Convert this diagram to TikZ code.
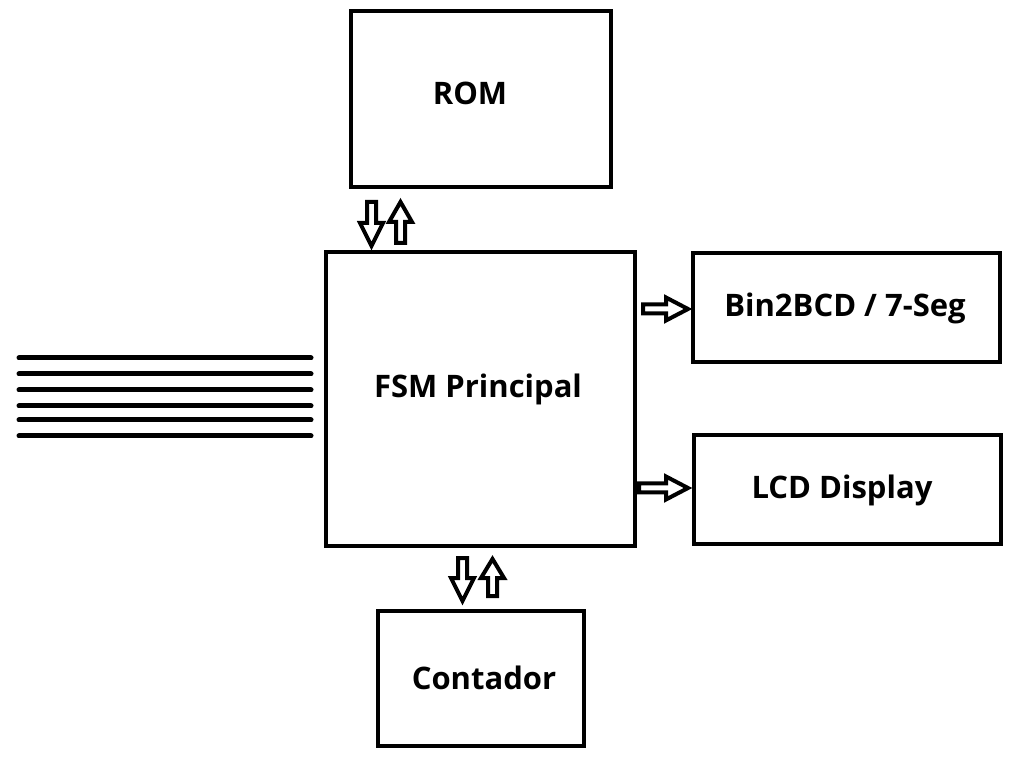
\documentclass[tikz,border=0pt]{standalone}
\usepackage{fontspec}
\setmainfont{Open Sans}
\begin{document}
\begin{tikzpicture}[x=1pt,y=1pt,
  box/.style={draw=black,line width=4pt,fill=white,inner sep=0pt},
  lbl/.style={font=\fontsize{31}{34}\selectfont\bfseries,inner sep=0pt,anchor=center},
  blk/.style={draw=black,line width=4pt,line join=miter,fill=white},
  wire/.style={line width=5pt,line cap=round}]
\useasboundingbox (0,0) rectangle (1018,756);
% boxes (stroke centre coordinates)
\node[box,minimum width=260pt,minimum height=176pt] (rom) at (481,657) {};
\node[box,minimum width=309pt,minimum height=294pt] (fsm) at (480.5,357) {};
\node[box,minimum width=307pt,minimum height=109pt] (bcd) at (846.5,448.5) {};
\node[box,minimum width=307pt,minimum height=109pt] (lcd) at (847.5,266.5) {};
\node[box,minimum width=206pt,minimum height=135pt] (cnt) at (481,77.5) {};
% labels
\node[lbl] (tRom) at (470,663) {ROM};
\node[lbl] (tFsm) at (478,367) {FSM Principal};
\node[lbl] (tBcd) at (845,448) {Bin2BCD / 7-Seg};
\node[lbl] (tLcd) at (842,266) {LCD Display};
\node[lbl] (tCnt) at (484,78) {Contador};
% input wires
\foreach \yy [count=\i] in {398,382,366,350,336,320}{
  \coordinate (w\i a) at (19,\yy);
  \coordinate (w\i b) at (fsm.west |- 0,\yy);
  \draw[wire] (w\i a) -- ([xshift=-13pt]w\i b);
}
% block arrows
\newcommand{\blkarrow}[5]{%
  \draw[blk,shift={(#1,#2)},rotate=#3]
    (0,-4.5) -- (#4-#5,-4.5) -- (#4-#5,-11.5) -- (#4,0) -- (#4-#5,11.5) -- (#4-#5,4.5) -- (0,4.5) -- cycle;}
\blkarrow{371.5}{554}{-90}{44}{23}
\blkarrow{400.5}{513}{90}{41}{20}
\blkarrow{462.5}{198}{-90}{43}{23}
\blkarrow{492.5}{160}{90}{37}{19}
\blkarrow{643}{447}{0}{45}{22}
\blkarrow{639}{268}{0}{49}{22}
\end{tikzpicture}
\end{document}
